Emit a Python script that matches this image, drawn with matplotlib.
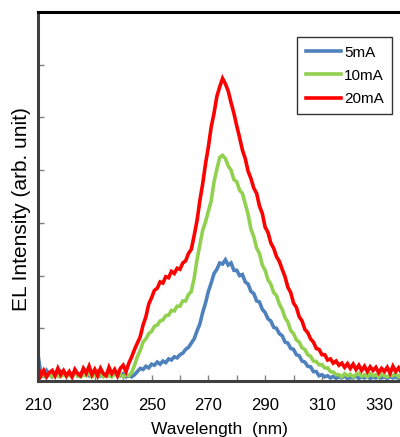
import matplotlib
matplotlib.use("Agg")
import matplotlib.pyplot as plt

plt.rcParams['font.family'] = ['Liberation Sans', 'DejaVu Sans']

wavelength = list(range(210, 341))

i_5mA = [
    0.50, 0.15, 0.10, 0.20, 0.12, 0.08, 0.15, 0.10, 0.18, 0.12,  # 210-219
    0.10, 0.16, 0.12, 0.18, 0.10, 0.14, 0.20, 0.12, 0.10, 0.16,  # 220-229
    0.12, 0.18, 0.10, 0.14, 0.12, 0.20, 0.10, 0.15, 0.12, 0.10,  # 230-239
    0.14, 0.08, 0.10, 0.08, 0.12, 0.18, 0.24, 0.22, 0.28, 0.25,  # 240-249
    0.32, 0.30, 0.36, 0.32, 0.38, 0.35, 0.42, 0.40, 0.46, 0.44,  # 250-259
    0.50, 0.53, 0.60, 0.64, 0.72, 0.80, 0.95, 1.08, 1.30, 1.48,  # 260-269
    1.70, 1.86, 2.04, 2.12, 2.24, 2.22, 2.30, 2.20, 2.24, 2.10,  # 270-279
    2.10, 2.00, 2.02, 1.88, 1.84, 1.70, 1.66, 1.52, 1.50, 1.36,  # 280-289
    1.30, 1.18, 1.14, 1.02, 1.00, 0.90, 0.86, 0.74, 0.72, 0.62,  # 290-299
    0.60, 0.50, 0.48, 0.38, 0.36, 0.28, 0.27, 0.18, 0.18, 0.10,  # 300-309
    0.12, 0.08, 0.10, 0.06, 0.09, 0.05, 0.08, 0.06, 0.10, 0.05,  # 310-319
    0.08, 0.06, 0.10, 0.05, 0.08, 0.06, 0.09, 0.05, 0.08, 0.06,  # 320-329
    0.10, 0.06, 0.08, 0.05, 0.09, 0.06, 0.08, 0.05, 0.08, 0.06,  # 330-339
    0.07,                                                      # 340
]

i_10mA = [
    0.12, 0.08, 0.12, 0.09, 0.14, 0.08, 0.12, 0.10, 0.08, 0.13,  # 210-219
    0.09, 0.12, 0.08, 0.14, 0.10, 0.08, 0.12, 0.10, 0.15, 0.08,  # 220-229
    0.12, 0.09, 0.14, 0.08, 0.12, 0.10, 0.08, 0.14, 0.10, 0.12,  # 230-239
    0.08, 0.12, 0.10, 0.16, 0.30, 0.46, 0.58, 0.74, 0.80, 0.90,  # 240-249
    0.94, 1.04, 1.06, 1.14, 1.16, 1.24, 1.25, 1.34, 1.33, 1.42,  # 250-259
    1.42, 1.52, 1.52, 1.64, 1.70, 1.95, 2.30, 2.58, 2.86, 3.02,  # 260-269
    3.22, 3.42, 3.78, 4.02, 4.24, 4.28, 4.22, 4.08, 4.00, 3.82,  # 270-279
    3.78, 3.62, 3.56, 3.36, 3.16, 2.88, 2.74, 2.52, 2.42, 2.20,  # 280-289
    2.10, 1.92, 1.84, 1.68, 1.62, 1.46, 1.36, 1.20, 1.12, 0.96,  # 290-299
    0.90, 0.78, 0.74, 0.63, 0.60, 0.50, 0.47, 0.38, 0.37, 0.31,  # 300-309
    0.31, 0.25, 0.25, 0.18, 0.17, 0.12, 0.12, 0.08, 0.14, 0.10,  # 310-319
    0.13, 0.08, 0.12, 0.15, 0.09, 0.12, 0.08, 0.14, 0.10, 0.12,  # 320-329
    0.08, 0.13, 0.10, 0.08, 0.12, 0.10, 0.14, 0.08, 0.12, 0.10,  # 330-339
    0.12,                                                      # 340
]

i_20mA = [
    0.25, 0.10, 0.20, 0.08, 0.16, 0.20, 0.10, 0.24, 0.12, 0.20,  # 210-219
    0.10, 0.18, 0.08, 0.22, 0.14, 0.10, 0.24, 0.15, 0.28, 0.12,  # 220-229
    0.22, 0.10, 0.24, 0.14, 0.10, 0.26, 0.14, 0.22, 0.10, 0.24,  # 230-239
    0.30, 0.18, 0.34, 0.46, 0.60, 0.72, 0.84, 1.06, 1.22, 1.46,  # 240-249
    1.58, 1.72, 1.76, 1.88, 1.86, 1.98, 1.96, 2.08, 2.04, 2.14,  # 250-259
    2.12, 2.24, 2.28, 2.42, 2.50, 2.76, 3.04, 3.42, 3.74, 4.12,  # 260-269
    4.44, 4.82, 5.08, 5.40, 5.58, 5.74, 5.64, 5.50, 5.28, 5.08,  # 270-279
    4.84, 4.62, 4.38, 4.22, 3.98, 3.84, 3.66, 3.56, 3.32, 3.18,  # 280-289
    2.92, 2.82, 2.62, 2.52, 2.36, 2.27, 2.12, 1.98, 1.78, 1.68,  # 290-299
    1.48, 1.40, 1.22, 1.14, 0.98, 0.92, 0.80, 0.74, 0.62, 0.60,  # 300-309
    0.50, 0.50, 0.40, 0.42, 0.34, 0.38, 0.30, 0.34, 0.26, 0.33,  # 310-319
    0.24, 0.32, 0.22, 0.30, 0.20, 0.28, 0.18, 0.27, 0.20, 0.26,  # 320-329
    0.16, 0.24, 0.18, 0.26, 0.15, 0.28, 0.18, 0.25, 0.16, 0.26,  # 330-339
    0.20,                                                      # 340
]

series_labels = ["5mA", "10mA", "20mA"]
series_colors = ["#4F81BD", "#92D050", "#FF0000"]
xtick_labels = [210, 230, 250, 270, 290, 310, 330]

fig = plt.figure(figsize=(4.0, 4.37), dpi=100)
ax = fig.add_axes([0.095, 0.128, 0.905, 0.8445])

for vals, lab, col in zip([i_5mA, i_10mA, i_20mA], series_labels, series_colors):
    ax.plot(wavelength, vals, color=col, lw=2.6, label=lab, solid_joinstyle='miter')

ax.set_xlim(210, 337.5)
ax.set_ylim(0, 7)

ax.set_xticks(xtick_labels)
ax.set_xticklabels([str(v) for v in xtick_labels], fontsize=12)
ax.set_xticks(list(range(220, 340, 20)), minor=True)
ax.set_yticks(list(range(1, 7)))
ax.set_yticklabels([])
ax.tick_params(axis='both', which='both', direction='in', length=4, width=1,
               color='#808080', pad=12)
ax.tick_params(axis='y', which='both', left=True, right=False)

ax.spines['right'].set_visible(False)
ax.spines['top'].set_color('black')
ax.spines['top'].set_linewidth(2.2)
for s in ['left', 'bottom']:
    ax.spines[s].set_color('#404040')
    ax.spines[s].set_linewidth(2.2)

ax.set_xlabel("Wavelength  (nm)", fontsize=12.5, labelpad=7)
ax.set_ylabel("EL Intensity (arb. unit)", fontsize=15)
ax.yaxis.set_label_coords(-0.019, 0.466)

leg = ax.legend(loc='upper right', bbox_to_anchor=(0.978, 0.932), borderaxespad=0,
                fontsize=11, frameon=True, fancybox=False, edgecolor='black',
                handlelength=2.3, handletextpad=0.2, labelspacing=0.6,
                borderpad=0.55)
leg.get_frame().set_linewidth(1.0)

fig.savefig("out.png", dpi=100)
